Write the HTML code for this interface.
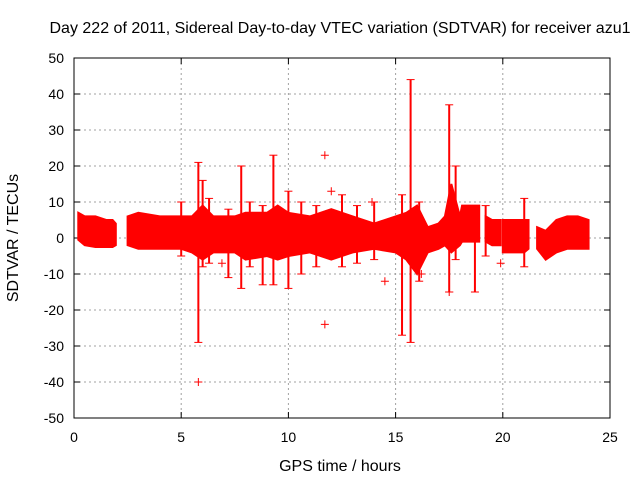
<!DOCTYPE html>
<html><head><meta charset="utf-8"><style>
body{margin:0;background:#fff}
svg{display:block;font-family:"Liberation Sans",sans-serif}
</style></head><body>
<svg id="c" width="640" height="480"></svg>
<script>
// Data
const xTicks=[0,5,10,15,20,25];
const yTicks=[50,40,30,20,10,0,-10,-20,-30,-40,-50];
const seg1T=[0.2,0.5,1.0,1.5,1.8,1.95];
const seg1U=[7,6,6,5,5,4];
const seg1L=[-0.5,-2,-2.5,-2.5,-2.5,-2];
const seg2T=[2.5,3,4,5,5.5,6,6.5,7.5,8,9,9.5,10,11,12,13,14,15,15.5,16,16.5,17,17.3,17.6,18,18.1,18.9];
const seg2U=[6,7,6,6,6,9,6,6,7,7,9,7,6,8,6,4,6,7,9,3,4,6,15,6,9,9];
const seg2L=[-2,-3,-3,-3,-4,-6,-4,-4,-6,-5,-6,-5,-4,-6,-4,-3,-4,-6,-10,-4,-3,-2,-4,-2,-1,-1];
const seg3T=[19.2,19.5,19.9];
const seg3U=[6,5,5];
const seg3L=[-1,-2,-2];
const seg4T=[20,20.5,21,21.2];
const seg4U=[5,5,5,5];
const seg4L=[-4,-4,-4,-3];
const seg5T=[21.6,22,22.5,23,23.5,24];
const seg5U=[3,2,5,6,6,5];
const seg5L=[-3,-6,-4,-3,-3,-3];
const spikeT=[5.0,5.8,6.0,6.3,7.2,7.8,8.2,8.8,9.3,10.0,10.6,11.3,12.5,13.2,14.0,15.3,15.7,16.1,17.5,17.8,18.7,19.2,21.0];
const spikeTop=[10,21,16,11,8,20,10,9,23,13,10,9,12,9,10,12,44,10,37,20,9,9,11];
const spikeBot=[-5,-29,-8,-7,-11,-14,-8,-13,-13,-14,-10,-8,-8,-7,-6,-27,-29,-12,-15,-6,-15,-5,-8];
const crossT=[5.8,11.7,11.7,12.0,14.5,17.5,16.2,19.9,6.9,13.9];
const crossV=[-40,23,-24,13,-12,-15,-10,-7,-7,10];

const X0=74,X1=610,Y0=58,Y1=418;
const sx=t=>X0+(t-0)*(X1-X0)/25;
const sy=v=>Y1-(v+50)*(Y1-Y0)/100;
const svg=document.getElementById('c');
const NS='http://www.w3.org/2000/svg';
function mk(tag,attrs,parent){const e=document.createElementNS(NS,tag);for(const k in attrs)e.setAttribute(k,attrs[k]);(parent||svg).appendChild(e);return e;}

xTicks.forEach(t=>{
  if(t>0&&t<25){const g=mk('line',{x1:sx(t),x2:sx(t),y1:Y0,y2:Y1,stroke:'#a0a0a0','stroke-dasharray':'2,3'});
  
  }
  const l=mk('text',{x:sx(t),y:Y1+24,'text-anchor':'middle','font-size':'14',fill:'#000'});l.textContent=t;
  
  
  mk('line',{x1:sx(t),x2:sx(t),y1:Y1,y2:Y1-6,stroke:'#000'});
  mk('line',{x1:sx(t),x2:sx(t),y1:Y0,y2:Y0+6,stroke:'#000'});
});
yTicks.forEach(v=>{
  if(v>-50&&v<50){const g=mk('line',{x1:X0,x2:X1,y1:sy(v),y2:sy(v),stroke:'#a0a0a0','stroke-dasharray':'2,3'});
  
  }
  const l=mk('text',{x:X0-10,y:sy(v)+5,'text-anchor':'end','font-size':'14',fill:'#000'});l.textContent=v;
  
  
  mk('line',{x1:X0,x2:X0+6,y1:sy(v),y2:sy(v),stroke:'#000'});
  mk('line',{x1:X1,x2:X1-6,y1:sy(v),y2:sy(v),stroke:'#000'});
});

[[seg1T,seg1U,seg1L],[seg2T,seg2U,seg2L],[seg3T,seg3U,seg3L],[seg4T,seg4U,seg4L],[seg5T,seg5U,seg5L]].forEach(([T,U,L])=>{
  let pts=T.map((t,i)=>sx(t)+','+sy(U[i]));
  pts=pts.concat(T.map((t,i)=>sx(t)+','+sy(L[i])).reverse());
  const p=mk('polygon',{points:pts.join(' '),fill:'#ff0000',stroke:'#ff0000','stroke-width':'2'});
  
  
});
spikeT.forEach((t,i)=>{
  const x=sx(t);
  const s=mk('line',{x1:x,x2:x,y1:sy(spikeTop[i]),y2:sy(spikeBot[i]),stroke:'#ff0000','stroke-width':'2'});
  
  
  [spikeTop[i],spikeBot[i]].forEach(v=>mk('line',{x1:x-4,x2:x+4,y1:sy(v),y2:sy(v),stroke:'#ff0000'}));
});
crossT.forEach((t,i)=>{
  const x=sx(t),y=sy(crossV[i]);
  const g=mk('path',{d:`M${x-4},${y}H${x+4}M${x},${y-4}V${y+4}`,stroke:'#ff0000'});
  
  
});

const f=mk('rect',{x:X0,y:Y0,width:X1-X0,height:Y1-Y0,fill:'none',stroke:'#000'});


const ti=mk('text',{x:340,y:33,'text-anchor':'middle','font-size':'16',fill:'#000'});
ti.textContent='Day 222 of 2011, Sidereal Day-to-day VTEC variation (SDTVAR) for receiver azu1';


const xl=mk('text',{x:340,y:471,'text-anchor':'middle','font-size':'16',fill:'#000'});
xl.textContent='GPS time / hours';


const yl=mk('text',{x:0,y:0,'text-anchor':'middle','font-size':'16',fill:'#000',transform:'translate(18,238) rotate(-90)'});
yl.textContent='SDTVAR / TECUs';


</script>
</body></html>
